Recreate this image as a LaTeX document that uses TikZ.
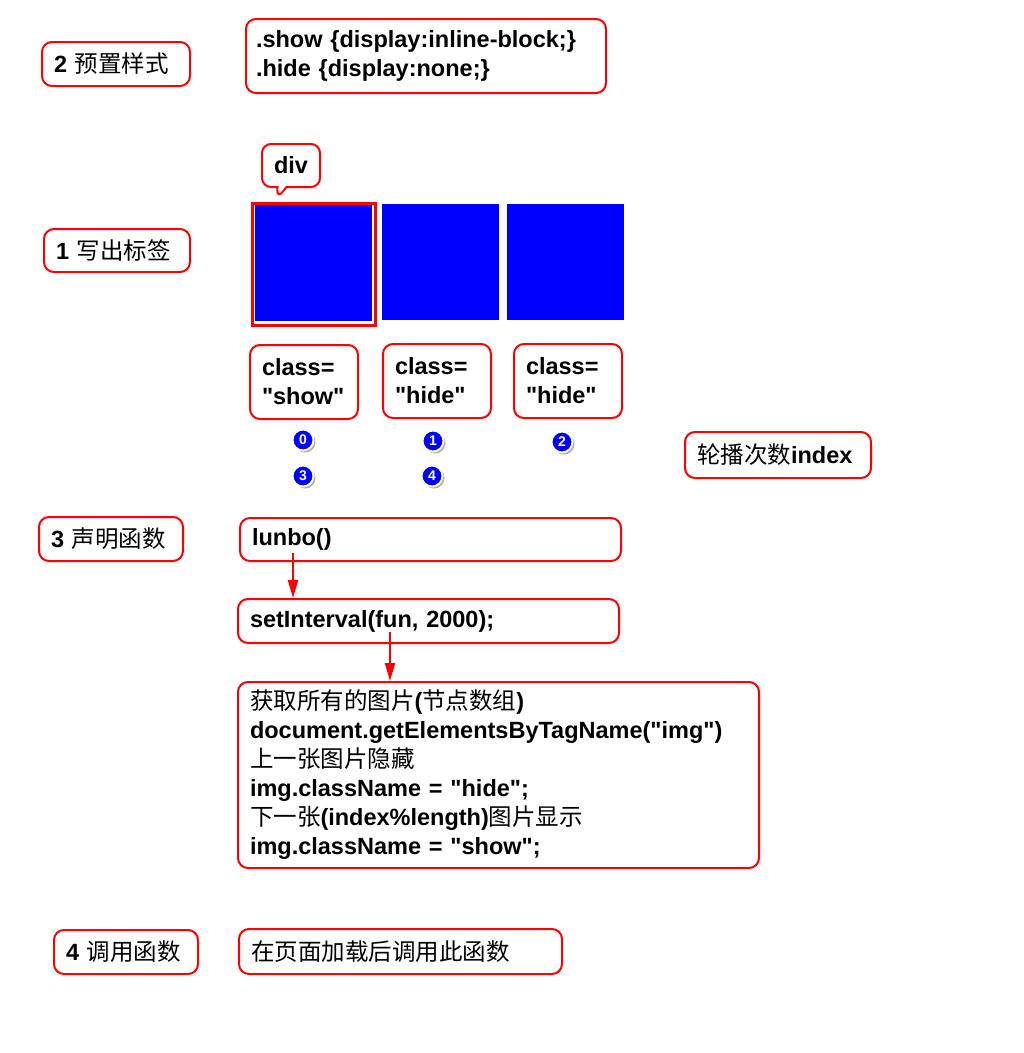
\documentclass[tikz,border=0pt]{standalone}
\usepackage{fontspec}
\newfontfamily\lsans{Liberation Sans}
\newfontfamily\cjk{Noto Sans CJK SC}
\newcommand\zhtxt[1]{{\cjk\mdseries #1}}
\usetikzlibrary{arrows.meta,shadows,shapes.callouts}
\tikzset{
  rbox/.style={draw=red, line width=2pt, rounded corners=10pt, fill=white,
    anchor=north west, inner xsep=12pt, inner ysep=0pt, align=left,
    font=\lsans\bfseries\fontsize{23.5}{29}\selectfont},
  sbox/.style={rbox},
  blue sq/.style={fill=blue, draw=none, anchor=north west, inner sep=0pt,
    minimum width=117pt, minimum height=116pt},
  num/.style={circle, fill=blue, draw=white, line width=2pt, inner sep=0pt,
    minimum size=21pt, text=white, font=\lsans\bfseries\fontsize{14}{14}\selectfont,
    drop shadow={shadow xshift=2pt, shadow yshift=-2pt, fill=black!55, opacity=.6}},
  arr/.style={draw=red, line width=2pt, -{Triangle[length=18pt,width=10pt]}},
}
\begin{document}
\begin{tikzpicture}[x=1pt,y=-1pt]
\path[use as bounding box] (0,0) rectangle (1024,1053);

% left labels
\node[sbox, text width=124pt, minimum height=44pt] (n2) at (41,41) {2 \zhtxt{预置样式}};
\node[sbox, text width=122pt, minimum height=43pt] (n1) at (43,228) {1 \zhtxt{写出标签}};
\node[sbox, text width=120pt, minimum height=44pt] (n3) at (38,516) {3 \zhtxt{声明函数}};
\node[sbox, text width=120pt, minimum height=44pt] (n4) at (53,929) {4 \zhtxt{调用函数}};

% css
\node[sbox, inner xsep=10pt, text width=340pt, minimum height=74pt] (css) at (245,18)
  {.show \{display:inline-block;\}\\.hide \{display:none;\}};

% div callout
\node[rectangle callout, draw=red, line width=2pt, rounded corners=9pt, fill=white,
  minimum width=58pt, minimum height=43pt, inner sep=0pt,
  callout absolute pointer={(277,199)}, callout pointer width=9pt,
  font=\lsans\bfseries\fontsize{23.5}{29}\selectfont] (div) at (291,165.5) {div};

% images
\node[draw=red, line width=3.5pt, minimum width=123pt, minimum height=122pt, inner sep=0pt,
  anchor=north west] (frame) at (250.5,201.5) {};
\node[blue sq] (b1) at (254.5,205) {};
\node[blue sq] (b2) at (382,204) {};
\node[blue sq] (b3) at (507,204) {};

% class boxes
\node[rbox, text width=84pt, minimum height=74pt] (c1) at (249,344) {class=\\"show"};
\node[rbox, text width=84pt, minimum height=74pt] (c2) at (382,343) {class=\\"hide"};
\node[rbox, text width=84pt, minimum height=74pt] (c3) at (513,343) {class=\\"hide"};

% numbers
\node[num] (k0) at (303,440) {0};
\node[num] (k1) at (433,441) {1};
\node[num] (k2) at (562,442) {2};
\node[num] (k3) at (303,476) {3};
\node[num] (k4) at (432,476) {4};

\node[rbox, text width=162pt, minimum height=46pt] (idx) at (684,431) {\zhtxt{轮播次数}index};

% functions
\node[rbox, text width=357pt, minimum height=43pt] (lunbo) at (239,517) {lunbo()};
\node[rbox, text width=357pt, minimum height=44pt] (setint) at (237,598) {setInterval(fun, 2000);};
\node[rbox, text width=497pt, minimum height=186pt] (big) at (237,681)
  {\zhtxt{获取所有的图片}(\zhtxt{节点数组})\\
   document.getElementsByTagName("img")\\
   \zhtxt{上一张图片隐藏}\\
   img.className = "hide";\\
   \zhtxt{下一张}(index\%length)\zhtxt{图片显示}\\
   img.className = "show";};
\node[rbox, text width=299pt, minimum height=45pt] (call) at (238,928) {\zhtxt{在页面加载后调用此函数}};

% arrows
\coordinate (a1) at (293,553);
\coordinate (a2) at (390,632);
\draw[arr] (a1) -- (a1 |- setint.north);
\draw[arr] (a2) -- (a2 |- big.north);
\end{tikzpicture}
\end{document}
